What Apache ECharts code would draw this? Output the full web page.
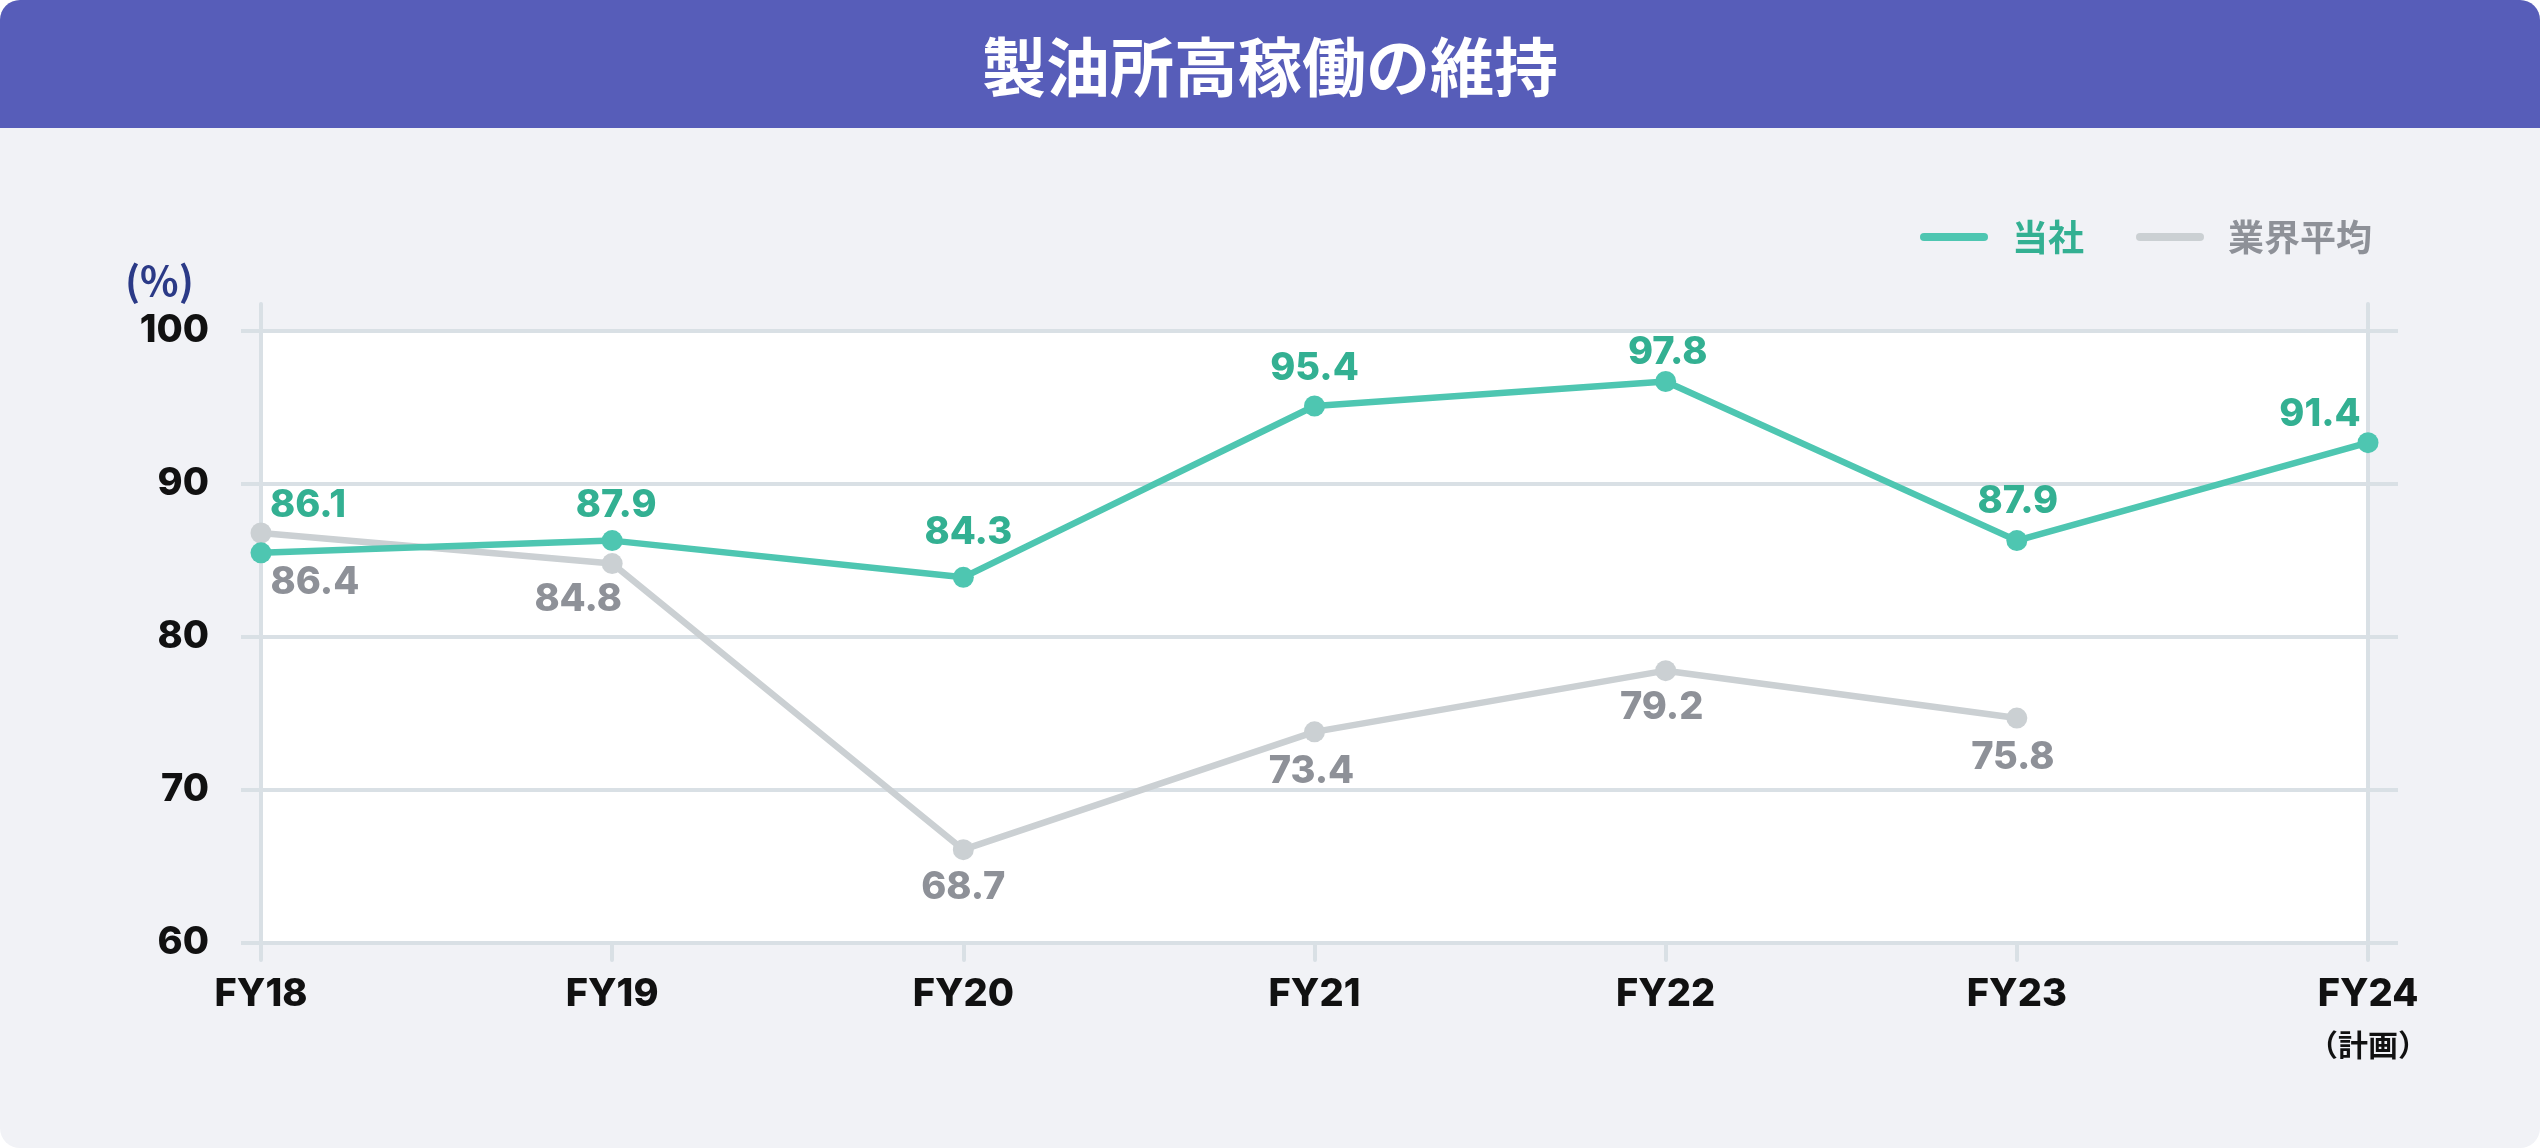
<!DOCTYPE html>
<html>
<head>
<meta charset="utf-8">
<script src="https://cdn.jsdelivr.net/npm/echarts@6/dist/echarts.min.js"></script>
<style>
  html, body { margin: 0; padding: 0; background: #ffffff; }
  #chart { width: 2540px; height: 1148px; border-radius: 20px; overflow: hidden; background: #F1F2F6; }
</style>
</head>
<body>
<div id="chart"></div>
<script>
// ---- data ----
const titleText = '製油所高稼働の維持';
const categories = ['FY18', 'FY19', 'FY20', 'FY21', 'FY22', 'FY23', 'FY24'];
const categoryNotes = ['', '', '', '', '', '', '（計画）'];
const seriesNames = ['当社', '業界平均'];
const companyValues = [85.5, 86.3, 83.9, 95.1, 96.7, 86.3, 92.7];
const companyLabels = ['86.1', '87.9', '84.3', '95.4', '97.8', '87.9', '91.4'];
const industryValues = [86.8, 84.8, 66.1, 73.8, 77.8, 74.7, null];
const industryLabels = ['86.4', '84.8', '68.7', '73.4', '79.2', '75.8', ''];
const yTicks = [60, 70, 80, 90, 100];
const unitText = '(%)';

// ---- label placement (style) ----
const companyLabelOffsets = [[47, -47], [4, -35], [5, -45], [0, -37], [2, -29], [1, -39], [-48, -28]];
const industryLabelOffsets = [[54, 50], [-34, 36], [0, 38], [-3, 40], [-4, 37], [-4, 39], [0, 0]];

const GREEN = '#4EC6B1', GREEN_TXT = '#33B092';
const GRAY = '#CBD0D3', GRAY_TXT = '#8E9198';
const GRID = '#D9E0E5';
const NUM_FONT = 'Inter, Lato, sans-serif';
const JP_FONT = '"Noto Sans CJK JP", sans-serif';

function buildData(values, labels, offsets) {
  return values.map((v, i) => ({
    value: v,
    label: { formatter: labels[i], offset: offsets[i] }
  }));
}

const chart = echarts.init(document.getElementById('chart'), null, { renderer: 'canvas' });
const headerRect = { type: 'rect', left: 0, top: 0, z: -10, shape: { width: 2540, height: 128 }, style: { fill: '#575DB9' } };
const option = {
  backgroundColor: 'transparent',
  animation: false,
  title: [
    { text: titleText, left: 'center', top: 27,
      textStyle: { color: '#ffffff', fontSize: 64, fontWeight: 'bold', fontFamily: JP_FONT, lineHeight: 70 } },
    { text: unitText, left: 120, top: 255,
      textStyle: { color: '#2B3A87', fontSize: 40, fontWeight: 'bold', fontFamily: JP_FONT, lineHeight: 42 } }
  ],
  graphic: [headerRect],
  legend: {
    left: 1915, top: 214,
    itemWidth: 68, itemHeight: 8, itemGap: 52,
    icon: 'path://M4,0 L64,0 A4,4 0 0 1 64,8 L4,8 A4,4 0 0 1 4,0 Z',
    data: [
      { name: seriesNames[0], textStyle: { color: GREEN_TXT } },
      { name: seriesNames[1], textStyle: { color: GRAY_TXT } }
    ],
    textStyle: { fontSize: 36, fontWeight: 'bold', fontFamily: JP_FONT, lineHeight: 36, padding: [0, 0, 0, 19] }
  },
  grid: { left: 261, right: 172, top: 331, bottom: 205, show: true, backgroundColor: '#ffffff', borderWidth: 0 },
  xAxis: {
    type: 'category', data: categories, boundaryGap: false,
    axisLine: { show: false },
    axisTick: { show: true, length: 17, lineStyle: { color: GRID, width: 4, cap: 'round' } },
    axisLabel: {
      margin: 27,
      formatter: (v, i) => categoryNotes[i] ? '{a|' + v + '}\n{b|' + categoryNotes[i] + '}' : '{a|' + v + '}',
      rich: {
        a: { fontSize: 38, fontWeight: 800, fontFamily: NUM_FONT, color: '#111111', lineHeight: 50 },
        b: { fontSize: 30, fontWeight: 'bold', fontFamily: JP_FONT, color: '#111111', lineHeight: 50 }
      }
    },
    splitLine: { show: false }
  },
  yAxis: [
    {
      type: 'value', min: yTicks[0], max: yTicks[yTicks.length - 1], interval: 10, position: 'left',
      axisLine: { show: true, lineStyle: { color: GRID, width: 4 } },
      axisTick: { show: true, length: 20, lineStyle: { color: GRID, width: 4 } },
      axisLabel: { margin: 52, fontSize: 38, fontWeight: 800, fontFamily: NUM_FONT, color: '#111111' },
      splitLine: { show: true, lineStyle: { color: GRID, width: 4 } }
    },
    {
      type: 'value', min: yTicks[0], max: yTicks[yTicks.length - 1], interval: 10, position: 'right',
      axisLine: { show: true, lineStyle: { color: GRID, width: 4 } },
      axisTick: { show: true, length: 30, lineStyle: { color: GRID, width: 4 } },
      axisLabel: { show: false },
      splitLine: { show: false }
    }
  ],
  series: [
    {
      name: seriesNames[1], type: 'line', z: 3,
      data: buildData(industryValues, industryLabels, industryLabelOffsets),
      symbol: 'circle', symbolSize: 21,
      lineStyle: { color: GRAY, width: 6.5 },
      itemStyle: { color: GRAY },
      label: { show: true, position: 'inside', color: GRAY_TXT, fontSize: 38, fontWeight: 800, fontFamily: NUM_FONT }
    },
    {
      name: seriesNames[0], type: 'line', z: 4,
      data: buildData(companyValues, companyLabels, companyLabelOffsets),
      symbol: 'circle', symbolSize: 21,
      lineStyle: { color: GREEN, width: 6.5 },
      itemStyle: { color: GREEN },
      label: { show: true, position: 'inside', color: GREEN_TXT, fontSize: 38, fontWeight: 800, fontFamily: NUM_FONT }
    }
  ]
};
chart.setOption(option);

// extend the two vertical frame lines slightly above the plot top
const xL = chart.convertToPixel({ xAxisIndex: 0 }, categories[0]);
const xR = chart.convertToPixel({ xAxisIndex: 0 }, categories[categories.length - 1]);
const yTop = chart.convertToPixel({ yAxisIndex: 0 }, yTicks[yTicks.length - 1]);
chart.setOption({
  graphic: [
    headerRect,
    { type: 'line', z: 1, shape: { x1: xL, y1: yTop - 27, x2: xL, y2: yTop }, style: { stroke: GRID, lineWidth: 4, lineCap: 'round' } },
    { type: 'line', z: 1, shape: { x1: xR, y1: yTop - 27, x2: xR, y2: yTop }, style: { stroke: GRID, lineWidth: 4, lineCap: 'round' } }
  ]
});
</script>
</body>
</html>
